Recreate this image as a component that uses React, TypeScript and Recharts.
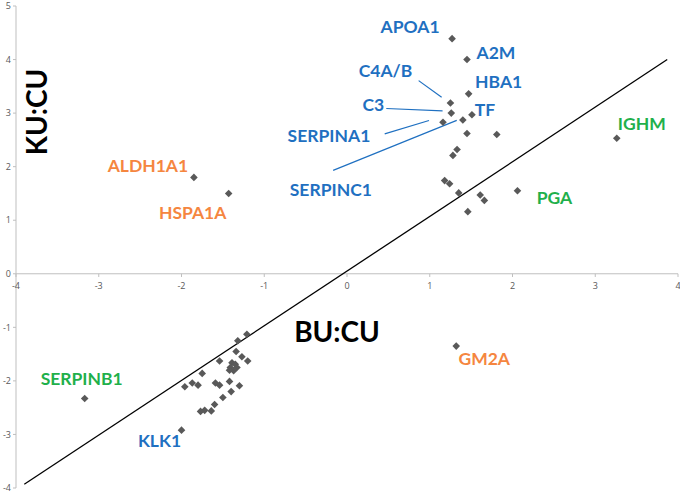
import { ScatterChart, Scatter, XAxis, YAxis, ReferenceLine, ReferenceDot } from 'recharts';

// BU:CU (x) vs KU:CU (y) log ratios
const genes = [
  'APOA1', 'A2M', 'HBA1', 'C4A/B', 'C3', 'TF', 'SERPINC1', 'SERPINA1',
  'IGHM', 'PGA', 'ALDH1A1', 'HSPA1A', 'GM2A', 'SERPINB1', 'KLK1',
  '', '', '', '', '', '', '', '', '', '',
  '', '', '', '', '', '', '', '', '', '', '', '', '', '',
  '', '', '', '', '', '', '', '', '', '', '', '',
];
const buCu = [
  1.27, 1.45, 1.47, 1.25, 1.26, 1.51, 1.40, 1.16,
  3.26, 2.06, -1.85, -1.43, 1.32, -3.17, -2.0,
  1.45, 1.81, 1.33, 1.28, 1.18, 1.24, 1.35, 1.61, 1.66, 1.46,
  -1.21, -1.32, -1.34, -1.27, -1.2, -1.54, -1.39, -1.35, -1.41, -1.33, -1.37, -1.42, -1.75, -1.96,
  -1.87, -1.8, -1.59, -1.54, -1.42, -1.3, -1.4, -1.5, -1.6, -1.64, -1.72, -1.77,
];
const kuCu = [
  4.39, 4.0, 3.36, 3.19, 3.0, 2.97, 2.87, 2.83,
  2.53, 1.55, 1.8, 1.5, -1.35, -2.33, -2.92,
  2.62, 2.6, 2.32, 2.21, 1.74, 1.68, 1.51, 1.47, 1.37, 1.16,
  -1.13, -1.25, -1.45, -1.55, -1.63, -1.63, -1.66, -1.69, -1.75, -1.75, -1.81, -1.8, -1.86, -2.11,
  -2.04, -2.08, -2.04, -2.08, -2.01, -2.09, -2.2, -2.31, -2.44, -2.56, -2.55, -2.57,
];

const xTicks = [-4, -3, -2, -1, 0, 1, 2, 3, 4];
const yTicks = [-4, -3, -2, -1, 0, 1, 2, 3, 4, 5];
const diagonal = [
  { x: -3.9, y: -3.93 },
  { x: 3.87, y: 4 },
];

const BLUE = '#1f70c1';
const ORANGE = '#f5863f';
const GREEN = '#1fb04b';
const AXIS = '#bfbfbf';
const TICK = '#595959';

const geneColor: Record<string, string> = {
  APOA1: BLUE, A2M: BLUE, HBA1: BLUE, 'C4A/B': BLUE, C3: BLUE, TF: BLUE,
  SERPINC1: BLUE, SERPINA1: BLUE, KLK1: BLUE,
  ALDH1A1: ORANGE, HSPA1A: ORANGE, GM2A: ORANGE,
  IGHM: GREEN, PGA: GREEN, SERPINB1: GREEN,
};

// label centre, in px from the marker
const labelOffset: Record<string, [number, number]> = {
  APOA1: [-42, -12],
  A2M: [29, -7],
  HBA1: [30, -12],
  'C4A/B': [-65, -32],
  C3: [-78, -9],
  TF: [13, -5],
  SERPINA1: [-114, 13],
  SERPINC1: [-132, 69],
  ALDH1A1: [-46, -12],
  HSPA1A: [-36, 19],
  IGHM: [25, -15],
  PGA: [37, 7],
  GM2A: [28, 12],
  SERPINB1: [-3, -20],
  KLK1: [-22, 10],
};

// leader lines, px from the marker
const leader: Record<string, [number, number, number, number]> = {
  'C4A/B': [-31.8, -22.3, -8.8, -5.6],
  C3: [-65, -4.6, -8.7, -2.3],
  SERPINA1: [-58.3, 11.6, -14, -1.7],
  SERPINC1: [-129.7, 50.3, -6.1, 0.3],
};

const Diamond = (props: any) => {
  const { cx, cy, payload } = props;
  const r = 3.8;
  const name = payload.gene;
  const off = labelOffset[name];
  const ld = leader[name];
  return (
    <g>
      <polygon
        points={`${cx},${cy - r} ${cx + r},${cy} ${cx},${cy + r} ${cx - r},${cy}`}
        fill="#595959"
      />
      {ld && (
        <line
          x1={cx + ld[0]} y1={cy + ld[1]} x2={cx + ld[2]} y2={cy + ld[3]}
          stroke={BLUE} strokeWidth={1.2}
        />
      )}
      {off && (
        <text
          x={cx + off[0]}
          y={cy + off[1]}
          textAnchor="middle"
          dominantBaseline="central"
          fontFamily="Lato"
          fontWeight={700}
          fontSize={17.5}
          fill={geneColor[name]}
        >
          {name}
        </text>
      )}
    </g>
  );
};

const kuTitle = (props: any) => {
  const vb = props.viewBox;
  const x = vb.x + vb.width + 20;
  const y = vb.y + vb.height * 0.22;
  return (
    <text
      x={x} y={y}
      transform={`rotate(-90 ${x} ${y})`}
      textAnchor="middle"
      dominantBaseline="central"
      fontFamily="Lato"
      fontWeight={700}
      fontSize={28}
      fill="#000"
    >
      KU:CU
    </text>
  );
};

const buTitle = (props: any) => {
  const vb = props.viewBox;
  return (
    <text
      x={vb.x + vb.width / 2 - 10}
      y={vb.y + 57}
      textAnchor="middle"
      dominantBaseline="central"
      fontFamily="Lato"
      fontWeight={700}
      fontSize={28}
      fill="#000"
    >
      BU:CU
    </text>
  );
};

export default function App() {
  const data = genes.map((gene, i) => ({ gene, x: buCu[i], y: kuCu[i] }));
  return (
    <div style={{ position: 'absolute', left: 0, top: 0, width: 680, height: 494, background: '#fff' }}>
      <ScatterChart width={680} height={494} margin={{ top: 6, right: 2, bottom: 6, left: 0 }}>
        <XAxis type="number" dataKey="x" domain={[-4, 4]} ticks={xTicks} hide />
        <YAxis
          type="number"
          dataKey="y"
          domain={[-4, 5]}
          ticks={yTicks}
          interval={0}
          width={16}
          tickSize={3}
          tickMargin={2}
          axisLine={{ stroke: AXIS }}
          tickLine={{ stroke: AXIS }}
          tick={{ fontSize: 9, fill: TICK, fontFamily: 'Open Sans' }}
          label={kuTitle}
        />
        <ReferenceLine y={0} stroke={AXIS} label={buTitle} />
        {xTicks.map((t) => (
          <ReferenceLine key={`tl${t}`} segment={[{ x: t, y: 0 }, { x: t, y: -0.06 }]} stroke={AXIS} />
        ))}
        {xTicks.map((t) => (
          <ReferenceDot
            key={`tx${t}`}
            x={t}
            y={0}
            r={0}
            fill="none"
            stroke="none"
            label={{ value: String(t), position: 'bottom', offset: 9, fontSize: 9, fill: TICK, fontFamily: 'Open Sans' }}
          />
        ))}
        <ReferenceLine segment={diagonal} stroke="#000" strokeWidth={1.3} />
        <Scatter data={data} shape={Diamond} isAnimationActive={false} />
      </ScatterChart>
    </div>
  );
}
